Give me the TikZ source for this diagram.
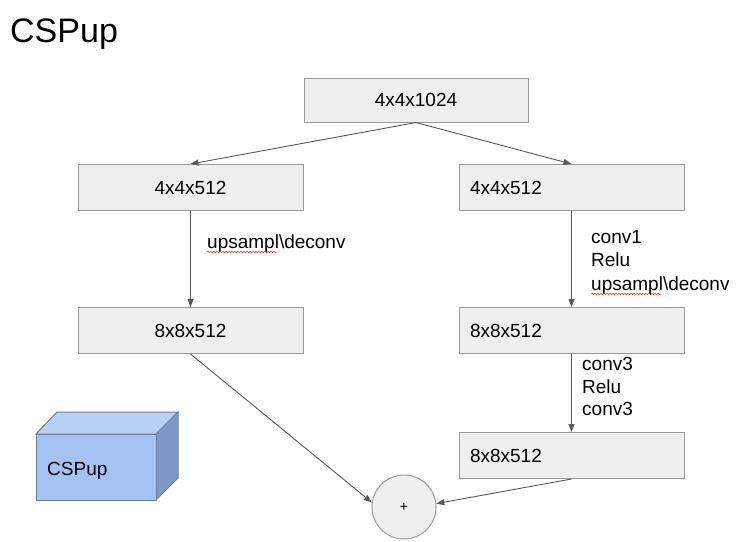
\documentclass[tikz,border=0pt]{standalone}
\usepackage{fontspec}
\setmainfont{Liberation Sans}
\usetikzlibrary{arrows.meta,positioning,decorations.pathmorphing}

\definecolor{boxfill}{HTML}{EFEFEF}
\definecolor{boxline}{HTML}{9A9A9A}
\definecolor{arrowgray}{HTML}{595959}
\definecolor{cubefront}{HTML}{A4C2F4}
\definecolor{cubetop}{HTML}{B9D0F6}
\definecolor{cubeside}{HTML}{7F98C8}
\definecolor{cubeline}{HTML}{6F7F9C}

\begin{document}
\begin{tikzpicture}[
  x=1pt, y=-1pt,
  font=\fontsize{19}{23}\selectfont,
  >={Triangle[length=8pt,width=6pt]},
  layer/.style={draw=boxline, line width=1pt, fill=boxfill, minimum width=225pt, minimum height=46pt, inner sep=0pt},
  leftlayer/.style={layer, text width=203pt, align=left},
  note/.style={anchor=base west, inner sep=0pt},
  line/.style={->, draw=arrowgray, line width=0.9pt}
]
\useasboundingbox[fill=white] (0,0) rectangle (736,541);

% title
\node[note, font=\fontsize{34}{40}\selectfont] (title) at (10,42) {CSPup};

% feature maps
\node[layer, minimum width=224pt, minimum height=44pt] (top) at (416,100) {4x4x1024};
\node[layer] (l1) at (190.5,187.5) {4x4x512};
\node[leftlayer, right=155pt of l1] (r1) {4x4x512};
\node[layer, below=96pt of l1] (l2) {8x8x512};
\node[leftlayer, below=96pt of r1] (r2) {8x8x512};
\node[leftlayer, below=78pt of r2] (r3) {8x8x512};

% sum
\node[circle, draw=boxline, line width=1pt, fill=boxfill, minimum size=64pt, inner sep=0pt, font=\fontsize{14}{16}\selectfont] (plus) at (404,507) {+};

% operations
\node[note] (opl) at (207,248) {upsampl\textbackslash deconv};
\node[note] (opr1) at (591,243) {conv1};
\node[note] (opr2) at (591,266) {Relu};
\node[note] (opr3) at (591,290) {upsampl\textbackslash deconv};
\node[note] (opr4) at (582,370) {conv3};
\node[note] (opr5) at (582,393) {Relu};
\node[note] (opr6) at (582,415) {conv3};

% spell check marks
\draw[red!85, line width=0.5pt, decorate, decoration={snake, amplitude=0.8pt, segment length=3pt}] ([yshift=-4pt]opl.base west) -- ++(70,0);
\draw[red!85, line width=0.5pt, decorate, decoration={snake, amplitude=0.8pt, segment length=3pt}] ([yshift=-4pt]opr3.base west) -- ++(70,0);

\draw[line] (top.south) -- (l1.north);
\draw[line] (top.south) -- (r1.north);
\draw[line] (l1) -- (l2);
\draw[line] (r1) -- (r2);
\draw[line] (r2) -- (r3);
\draw[line] (l2.south) -- (plus.172);
\draw[line] (r3.south) -- (plus.6);

% legend cube
\draw[cubeline, line width=1pt, fill=cubetop] (36,434) -- (57,412) -- (178,412) -- (156,434) -- cycle;
\draw[cubeline, line width=1pt, fill=cubeside] (156,434) -- (178,412) -- (178,478) -- (156,500) -- cycle;
\draw[cubeline, line width=1pt, fill=cubefront] (36,434) rectangle (156,500);
\node[note] (cubelbl) at (47,475) {CSPup};

\end{tikzpicture}
\end{document}
